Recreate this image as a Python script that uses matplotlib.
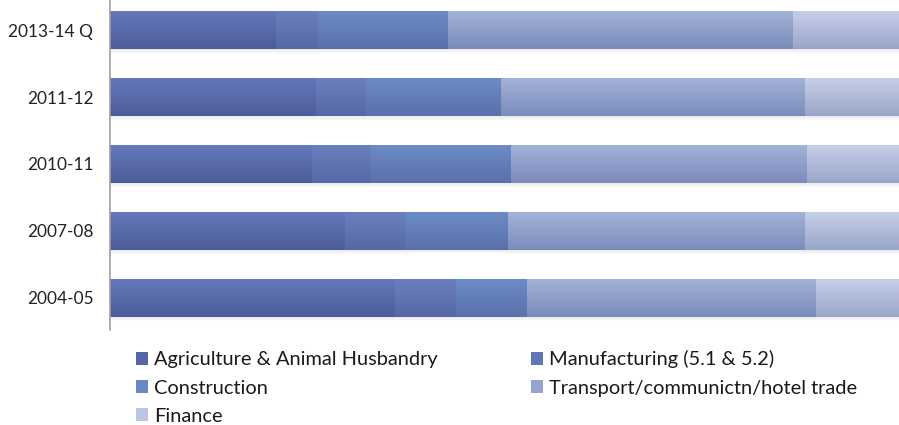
import numpy as np
import matplotlib.pyplot as plt
from matplotlib.patches import Patch
from matplotlib.colors import LinearSegmentedColormap

plt.rcParams['font.family'] = ['Lato', 'DejaVu Sans']

years = ['2004-05', '2007-08', '2010-11', '2011-12', '2013-14 Q']
sectors = ['Agriculture & Animal Husbandry', 'Manufacturing (5.1 & 5.2)',
           'Construction', 'Transport/communictn/hotel trade', 'Finance']

# sector share of GSDP (%)
agriculture = [30.0, 24.7, 21.3, 21.7, 17.5]
manufacturing = [6.4, 6.3, 6.2, 5.2, 4.4]
construction = [7.5, 10.9, 14.7, 14.3, 13.7]
transport = [30.4, 31.3, 31.2, 32.0, 36.3]
finance = [25.7, 26.8, 26.6, 26.8, 28.1]

series = [agriculture, manufacturing, construction, transport, finance]
top_cols = ['#6478bb', '#6b80bf', '#6c8cc6', '#a4b3d8', '#c7d0e9']
bot_cols = ['#4d5d98', '#5768a6', '#5b70ab', '#7b8cbc', '#9aa6c9']
legend_cols = ['#5566a6', '#6076b6', '#6a88c4', '#95a5d2', '#bcc6e3']

fig = plt.figure(figsize=(8.99, 4.25), dpi=100)
ax = fig.add_axes([0.1224, 0.224, 0.8776, 0.776])

ypos = np.arange(len(years))
height = 0.57
left = np.zeros(len(years))
for vals, c0, c1 in zip(series, top_cols, bot_cols):
    bars = ax.barh(ypos, vals, height=height, left=left, color='none',
                   edgecolor='none', zorder=3)
    cmap = LinearSegmentedColormap.from_list('g', [c0, c1])
    grad = np.linspace(0, 1, 64).reshape(-1, 1)
    for b in bars:
        x0, y0 = b.get_x(), b.get_y()
        w, h = b.get_width(), b.get_height()
        im = ax.imshow(grad, cmap=cmap, aspect='auto', origin='upper',
                       extent=(x0, x0 + w, y0, y0 + h), zorder=2)
        im.set_clip_path(b)
    left += np.array(vals)

# soft shadow under each bar
for y in ypos:
    for k in range(6):
        ax.barh(y - height / 2 - 0.012 * k, left[y], height=0.012,
                color='#000000', alpha=0.09 * (1 - k / 6), zorder=1,
                edgecolor='none')

ax.set_xlim(0, 83.05)
ax.set_ylim(-0.48, 4.45)
ax.set_yticks(ypos)
ax.set_yticklabels(years, fontsize=12.4, color='#222222')
ax.tick_params(axis='y', length=0, pad=12)
ax.set_xticks([])
for s in ['top', 'right', 'bottom']:
    ax.spines[s].set_visible(False)
ax.spines['left'].set_color('#a0a0a0')
ax.spines['left'].set_linewidth(1.2)

# legend reads row by row: reorder for matplotlib's column-major fill
order = [0, 2, 4, 1, 3]
handles = [Patch(facecolor=legend_cols[i], edgecolor='none') for i in order]
labels = [sectors[i] for i in order]
leg = fig.legend(handles, labels, loc='upper left', ncol=2,
                 bbox_to_anchor=(0.131, 0.218), frameon=False, fontsize=14.4,
                 handlelength=0.6, handleheight=0.6, handletextpad=0.3,
                 columnspacing=4.7, labelspacing=0.56)
for t in leg.get_texts():
    t.set_color('#1a1a1a')

fig.savefig('out.png', dpi=100)
